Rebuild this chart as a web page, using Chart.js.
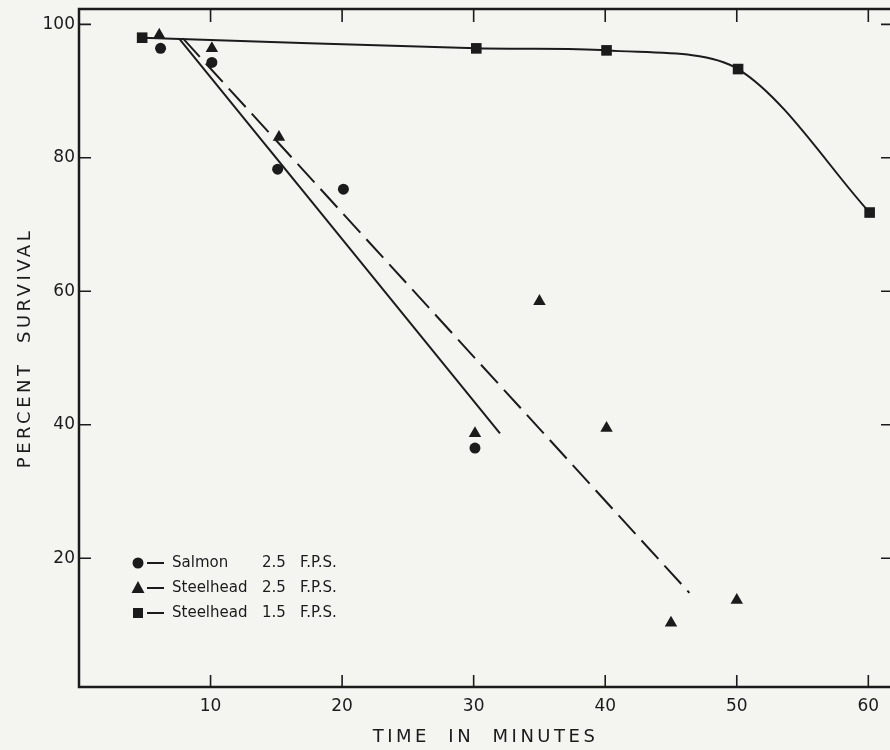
<!DOCTYPE html>
<html>
<head>
<meta charset="utf-8">
<script src="https://cdn.jsdelivr.net/npm/chart.js@4/dist/chart.umd.min.js"></script>
<style>
  html, body { margin: 0; padding: 0; background: #f4f4f1; overflow: hidden; }
  #wrap { width: 900px; height: 750px; }
</style>
</head>
<body>
<div id="wrap"><canvas id="grafico"></canvas></div>
<script>
// values (time in minutes, percent survival)
const salmonX = [6.2, 10.1, 15.1, 20.1, 30.1];
const salmonY = [96.4, 94.3, 78.3, 75.3, 36.5];
const steel25X = [6.1, 10.1, 15.2, 30.1, 35.0, 40.1, 45.0, 50.0];
const steel25Y = [98.4, 96.4, 83.1, 38.7, 58.5, 39.5, 10.3, 13.7];
const steel15X = [4.8, 30.2, 40.1, 50.1, 60.1];
const steel15Y = [98.0, 96.4, 96.1, 93.3, 71.8];
// end points of the two fitted lines
const salmonFitX = [7.6, 32.0];
const salmonFitY = [97.9, 38.7];
const steel25FitX = [7.9, 46.4];
const steel25FitY = [97.9, 14.8];

const xTicks = [10, 20, 30, 40, 50, 60];
const yTicks = [20, 40, 60, 80, 100];

const legendNames = ['Salmon', 'Steelhead', 'Steelhead'];
const legendSpeeds = ['2.5', '2.5', '1.5'];
const legendUnit = 'F.P.S.';

const ink = '#1b1b1b';
const fam = '"DejaVu Sans", sans-serif';

const pts = (xs, ys) => xs.map((x, i) => ({ x: x, y: ys[i] }));

// titles in the original are widely spaced lettering
const spacedTitles = {
  id: 'spacedTitles',
  afterLayout(chart) {
    ['x', 'y'].forEach(id => {
      const s = chart.scales[id];
      if (s._spaced) return;
      const orig = s.drawTitle;
      s.drawTitle = function (...args) {
        const c = this.ctx;
        c.save();
        c.letterSpacing = '3.5px';
        orig.apply(this, args);
        c.restore();
      };
      s._spaced = true;
    });
  }
};

// box round the plot with inward ticks, plus the hand-lettered legend
const frame = {
  id: 'frame',
  afterDraw(chart) {
    const { ctx, chartArea: a, scales: { x, y } } = chart;
    ctx.save();
    ctx.strokeStyle = ink;
    ctx.lineWidth = 2.5;
    ctx.strokeRect(a.left, a.top, a.right - a.left, a.bottom - a.top);
    ctx.lineWidth = 1.6;
    ctx.beginPath();
    xTicks.forEach(v => {
      const px = x.getPixelForValue(v);
      ctx.moveTo(px, a.bottom); ctx.lineTo(px, a.bottom - 12);
      ctx.moveTo(px, a.top); ctx.lineTo(px, a.top + 13);
    });
    yTicks.forEach(v => {
      const py = y.getPixelForValue(v);
      ctx.moveTo(a.left, py); ctx.lineTo(a.left + 12, py);
      ctx.moveTo(a.right, py); ctx.lineTo(a.right - 11, py);
    });
    ctx.stroke();

    const styles = ['circle', 'triangle', 'rect'];
    ctx.fillStyle = ink;
    ctx.font = '15px ' + fam;
    ctx.textBaseline = 'middle';
    legendNames.forEach((name, i) => {
      const ly = 563 + i * 25;
      const mx = 138;
      ctx.beginPath();
      if (styles[i] === 'circle') {
        ctx.arc(mx, ly, 5.5, 0, Math.PI * 2);
      } else if (styles[i] === 'triangle') {
        ctx.moveTo(mx, ly - 7); ctx.lineTo(mx + 6.5, ly + 5); ctx.lineTo(mx - 6.5, ly + 5); ctx.closePath();
      } else {
        ctx.rect(mx - 5, ly - 5, 10, 10);
      }
      ctx.fill();
      ctx.lineWidth = 2;
      ctx.beginPath();
      ctx.moveTo(147, ly); ctx.lineTo(164, ly);
      ctx.stroke();
      ctx.fillText(name, 172, ly);
      ctx.fillText(legendSpeeds[i], 262, ly);
      ctx.fillText(legendUnit, 300, ly);
    });
    ctx.restore();
  }
};

const ctx = document.getElementById('grafico').getContext('2d');
new Chart(ctx, {
  type: 'scatter',
  data: {
    datasets: [
      {
        label: 'Salmon 2.5 F.P.S.',
        data: pts(salmonX, salmonY),
        pointStyle: 'circle',
        pointRadius: 5.5,
        backgroundColor: ink,
        borderWidth: 0,
        showLine: false
      },
      {
        label: 'Steelhead 2.5 F.P.S.',
        data: pts(steel25X, steel25Y),
        pointStyle: 'triangle',
        pointRadius: 7.2,
        backgroundColor: ink,
        borderWidth: 0,
        showLine: false
      },
      {
        label: 'Steelhead 1.5 F.P.S.',
        data: pts(steel15X, steel15Y),
        pointStyle: 'rect',
        pointRadius: 7.5,
        backgroundColor: ink,
        borderColor: ink,
        borderWidth: 2,
        pointBorderWidth: 0,
        showLine: true,
        tension: 0.3
      },
      {
        label: 'Salmon fit',
        data: pts(salmonFitX, salmonFitY),
        showLine: true,
        pointRadius: 0,
        borderColor: ink,
        borderWidth: 2
      },
      {
        label: 'Steelhead 2.5 fit',
        data: pts(steel25FitX, steel25FitY),
        showLine: true,
        pointRadius: 0,
        borderColor: ink,
        borderWidth: 2,
        borderDash: [25, 9]
      }
    ]
  },
  options: {
    responsive: true,
    maintainAspectRatio: false,
    animation: false,
    layout: { padding: { top: 9, right: 8, left: 0, bottom: 0 } },
    plugins: {
      legend: { display: false },
      tooltip: { enabled: false }
    },
    scales: {
      x: {
        type: 'linear',
        min: 0,
        max: 61.8,
        afterBuildTicks: s => { s.ticks = xTicks.map(v => ({ value: v })); },
        afterFit: s => { s.height = 63; s.paddingLeft = 0; s.paddingRight = 0; },
        grid: { display: false, drawTicks: false },
        border: { display: false },
        ticks: { color: ink, font: { family: fam, size: 17 }, padding: 9, maxRotation: 0, autoSkip: false },
        title: {
          display: true,
          text: 'TIME  IN  MINUTES',
          color: ink,
          font: { family: fam, size: 18 },
          padding: { top: 0, bottom: 2 }
        }
      },
      y: {
        min: 0.7,
        max: 102.3,
        afterBuildTicks: s => { s.ticks = yTicks.map(v => ({ value: v })); },
        afterFit: s => { s.width = 79; s.paddingTop = 0; s.paddingBottom = 0; },
        grid: { display: false, drawTicks: false },
        border: { display: false },
        ticks: { color: ink, font: { family: fam, size: 17 }, padding: 4, autoSkip: false },
        title: {
          display: true,
          text: 'PERCENT  SURVIVAL',
          color: ink,
          font: { family: fam, size: 18 },
          padding: { top: 15, bottom: 0 }
        }
      }
    }
  },
  plugins: [spacedTitles, frame]
});
</script>
</body>
</html>
